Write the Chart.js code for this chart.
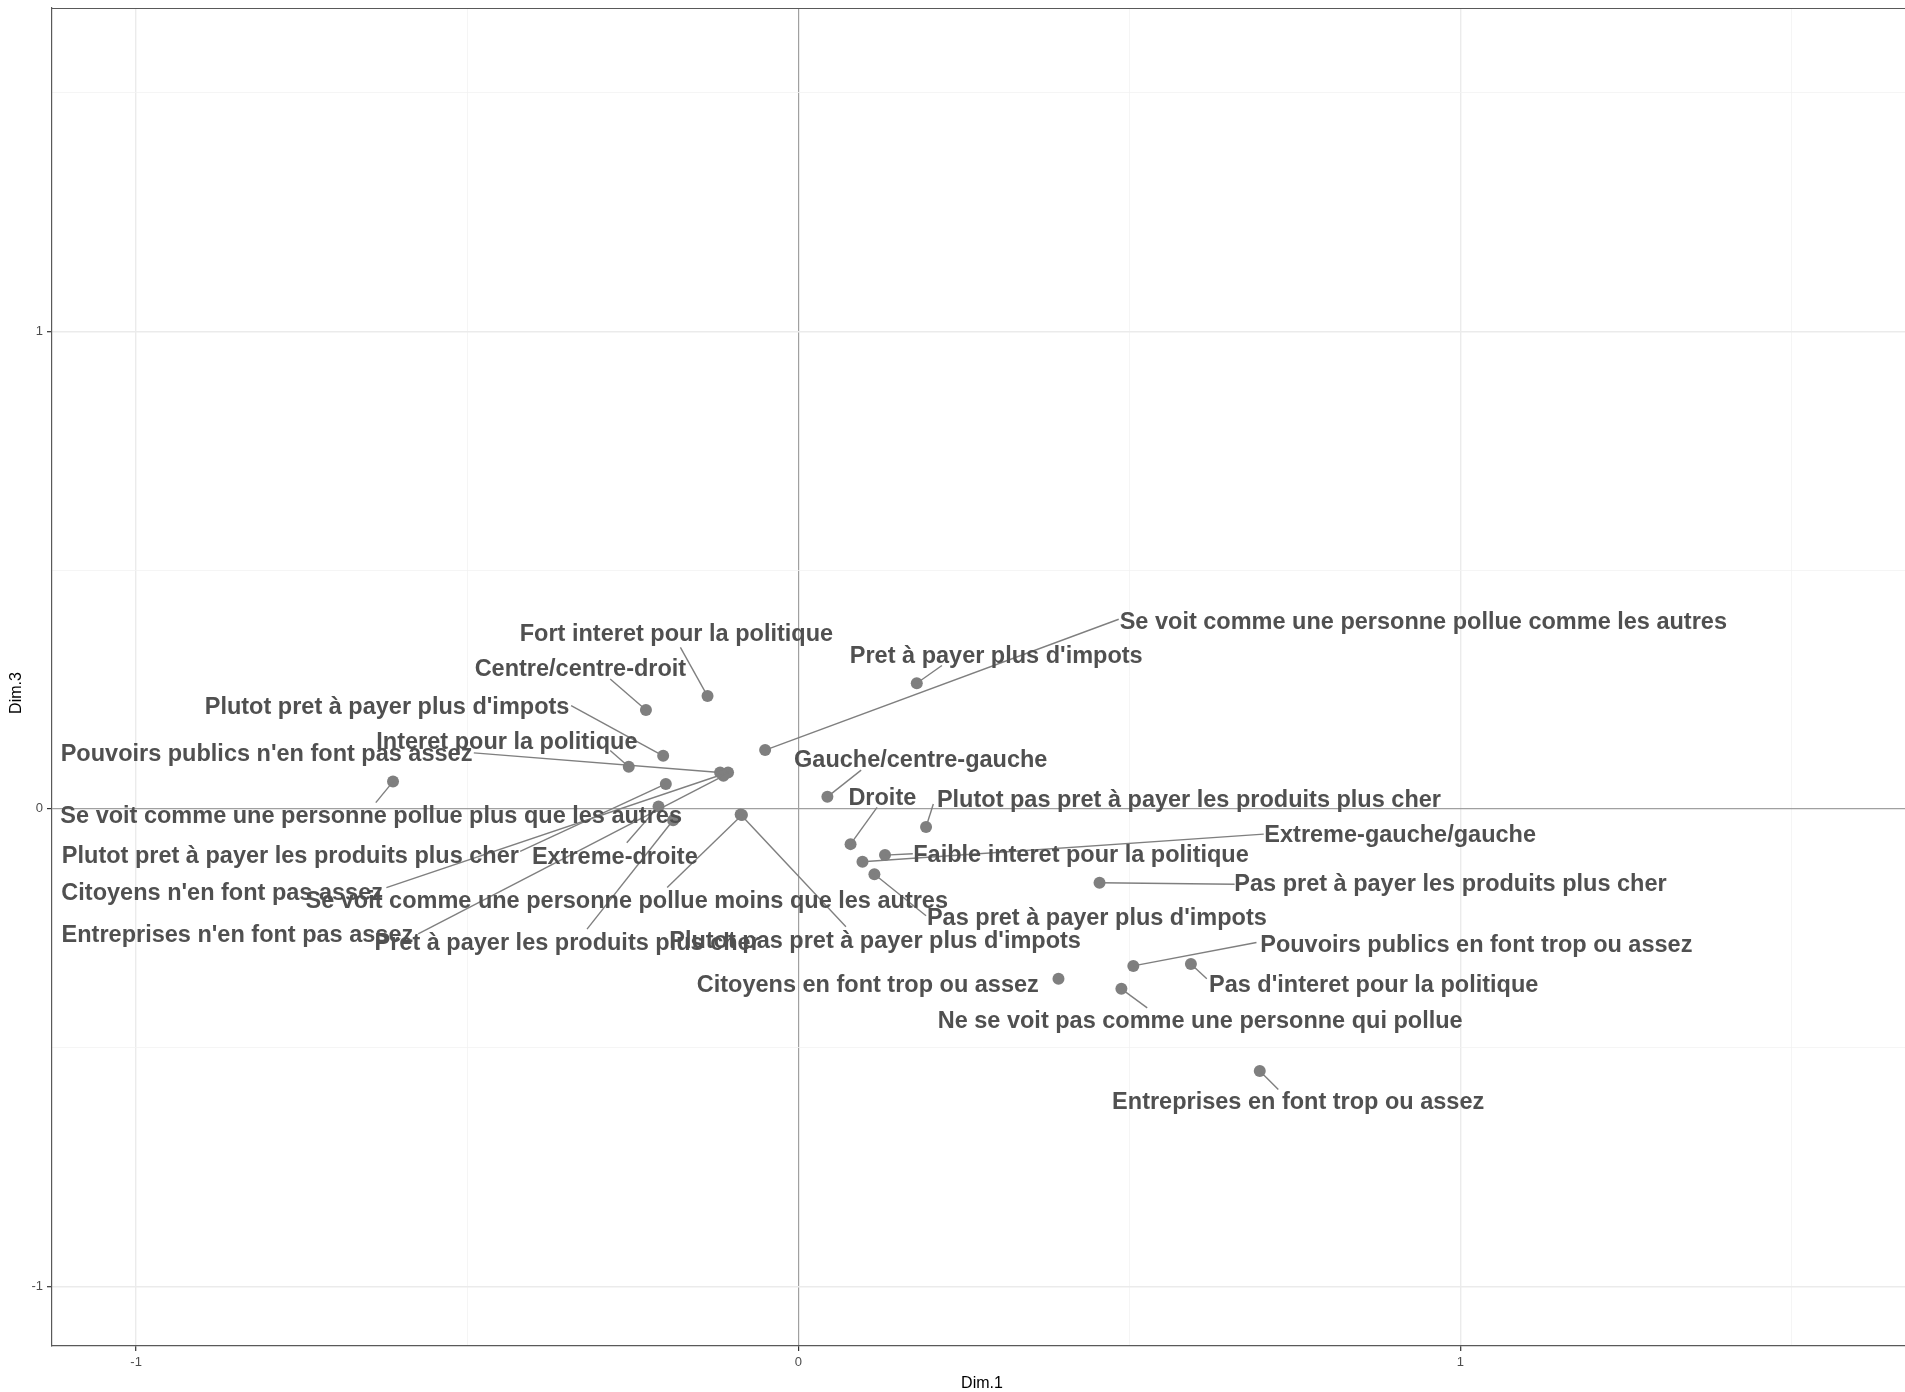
<!DOCTYPE html>
<html><head><meta charset="utf-8">
<script src="https://cdn.jsdelivr.net/npm/chart.js@4.4.1/dist/chart.umd.min.js"></script>
<style>
html,body{margin:0;padding:0;overflow:hidden;background:#fff;width:1905px;height:1392px}
#wrap{position:absolute;left:0;top:0;width:1925px;height:1392px}
</style>
</head><body><div id="wrap"><canvas id="c"></canvas></div>
<script>
// ---- data (MCA variable categories, Dim.1 vs Dim.3) ----
const categories = [
  "Fort interet pour la politique",
  "Centre/centre-droit",
  "Plutot pret à payer plus d'impots",
  "Interet pour la politique",
  "Pouvoirs publics n'en font pas assez",
  "Se voit comme une personne pollue plus que les autres",
  "Plutot pret à payer les produits plus cher",
  "Extreme-droite",
  "Citoyens n'en font pas assez",
  "Se voit comme une personne pollue moins que les autres",
  "Entreprises n'en font pas assez",
  "Pret à payer les produits plus cher",
  "Plutot pas pret à payer plus d'impots",
  "Citoyens en font trop ou assez",
  "Pret à payer plus d'impots",
  "Se voit comme une personne pollue comme les autres",
  "Gauche/centre-gauche",
  "Droite",
  "Plutot pas pret à payer les produits plus cher",
  "Extreme-gauche/gauche",
  "Faible interet pour la politique",
  "Pas pret à payer les produits plus cher",
  "Pas pret à payer plus d'impots",
  "Pouvoirs publics en font trop ou assez",
  "Pas d'interet pour la politique",
  "Ne se voit pas comme une personne qui pollue",
  "Entreprises en font trop ou assez"
];
const dim1 = [-0.137,-0.230,-0.204,-0.256,-0.118,-0.612,-0.200,-0.211,-0.106,-0.085,-0.113,-0.189,-0.087,
  0.393,0.179,-0.050,0.044,0.079,0.193,0.097,0.131,0.455,0.115,0.506,0.593,0.488,0.697];
const dim3 = [0.236,0.207,0.111,0.088,0.076,0.057,0.052,0.005,0.076,-0.013,0.069,-0.024,-0.012,
  -0.356,0.263,0.123,0.025,-0.074,-0.038,-0.111,-0.097,-0.155,-0.137,-0.329,-0.325,-0.377,-0.549];
const xTickLabels = [-1, 0, 1];
const yTickLabels = [-1, 0, 1];

// ---- layout: repelled label centres and segment ends (in data units) ----
const labelPosX = [-0.184,-0.329,-0.621,-0.440,-0.803,-0.645,-0.767,-0.277,-0.870,-0.259,-0.847,-0.349,0.116,
  0.105,0.299,0.944,0.185,0.127,0.590,0.909,0.427,0.985,0.451,1.024,0.869,0.607,0.755];
const labelPosY = [0.369,0.295,0.216,0.142,0.117,-0.013,-0.097,-0.099,-0.175,-0.191,-0.262,-0.280,-0.275,
  -0.366,0.323,0.394,0.104,0.025,0.020,-0.053,-0.094,-0.155,-0.226,-0.283,-0.366,-0.443,-0.613];
const linkEndX = [-0.178,-0.284,-0.343,-0.284,-0.490,-0.638,-0.420,-0.259,-0.622,-0.198,-0.574,-0.319,0.072,
  null,0.217,0.484,0.095,0.119,0.204,0.703,0.173,0.659,0.193,0.692,0.617,0.527,0.725];
const linkEndY = [0.338,0.272,0.216,0.122,0.117,0.013,-0.089,-0.071,-0.165,-0.165,-0.262,-0.252,-0.247,
  null,0.300,0.397,0.081,0.003,0.010,-0.053,-0.094,-0.158,-0.224,-0.280,-0.356,-0.417,-0.588];

const FONT = '"Liberation Sans", Arial, sans-serif';

const gridColor = c => {
  const v = c.tick ? c.tick.value : NaN;
  if (v === 0) return '#a0a0a0';
  return Number.isInteger(v) ? '#ebebeb' : '#f2f2f2';
};
const gridWidth = c => {
  const v = c.tick ? c.tick.value : NaN;
  if (v === 0) return 1.2;
  return Number.isInteger(v) ? 1.4 : 0.8;
};
const tickColor = c => {
  const v = c.tick ? c.tick.value : NaN;
  return Number.isInteger(v) ? '#333333' : 'rgba(0,0,0,0)';
};

const repelPlugin = {
  id: 'repel',
  afterDatasetsDraw(chart) {
    const {ctx, chartArea: a, scales: {x, y}} = chart;
    ctx.save();
    ctx.beginPath();
    ctx.rect(a.left, a.top, a.right - a.left, a.bottom - a.top);
    ctx.clip();
    ctx.strokeStyle = '#7f7f7f';
    ctx.lineWidth = 1.4;
    categories.forEach((c, i) => {
      if (linkEndX[i] === null) return;
      ctx.beginPath();
      ctx.moveTo(x.getPixelForValue(dim1[i]), y.getPixelForValue(dim3[i]));
      ctx.lineTo(x.getPixelForValue(linkEndX[i]), y.getPixelForValue(linkEndY[i]));
      ctx.stroke();
    });
    ctx.font = 'bold 23.5px ' + FONT;
    ctx.fillStyle = '#505050';
    ctx.textAlign = 'center';
    ctx.textBaseline = 'middle';
    categories.forEach((c, i) => {
      ctx.fillText(c, x.getPixelForValue(labelPosX[i]), y.getPixelForValue(labelPosY[i]) + 1.5);
    });
    ctx.restore();
  },
  afterDraw(chart) {
    const {ctx, chartArea: a} = chart;
    ctx.save();
    // top panel border
    ctx.strokeStyle = '#595959';
    ctx.lineWidth = 1.2;
    ctx.beginPath();
    ctx.moveTo(a.left, a.top + 0.5);
    ctx.lineTo(a.right, a.top + 0.5);
    ctx.stroke();
    // axis titles
    ctx.fillStyle = '#000';
    ctx.font = '16px ' + FONT;
    ctx.textAlign = 'center';
    ctx.textBaseline = 'middle';
    ctx.fillText('Dim.1', (a.left + a.right) / 2, 1384);
    ctx.translate(17, (a.top + a.bottom) / 2 + 16);
    ctx.rotate(-Math.PI / 2);
    ctx.fillText('Dim.3', 0, 0);
    ctx.restore();
  }
};

new Chart(document.getElementById('c'), {
  type: 'scatter',
  data: {
    datasets: [{
      data: categories.map((c, i) => ({x: dim1[i], y: dim3[i]})),
      pointRadius: 6,
      pointHoverRadius: 6,
      pointBackgroundColor: '#7f7f7f',
      pointBorderWidth: 0,
      pointBorderColor: '#7f7f7f'
    }]
  },
  options: {
    responsive: true,
    maintainAspectRatio: false,
    animation: false,
    events: [],
    layout: {padding: {top: 8, right: 13, left: 0, bottom: 0}},
    plugins: {legend: {display: false}, tooltip: {enabled: false}},
    scales: {
      x: {
        type: 'linear', position: 'bottom', min: -1.127, max: 1.682,
        afterFit: s => { s.height = 46; s.paddingLeft = 0; s.paddingRight = 0; },
        ticks: {
          stepSize: 0.5, includeBounds: false, autoSkip: false, maxRotation: 0,
          padding: 4, color: '#4d4d4d', font: {family: FONT, size: 13},
          callback: v => xTickLabels.includes(v) ? String(v) : ''
        },
        grid: {color: gridColor, lineWidth: gridWidth, tickColor: tickColor, tickLength: 5, tickWidth: 1.2},
        border: {display: true, color: '#595959', width: 1.2}
      },
      y: {
        type: 'linear', position: 'left', min: -1.125, max: 1.677,
        afterFit: s => { s.width = 52; s.paddingTop = 0; s.paddingBottom = 0; },
        ticks: {
          stepSize: 0.5, includeBounds: false, autoSkip: false,
          padding: 4, color: '#4d4d4d', font: {family: FONT, size: 13},
          callback: v => yTickLabels.includes(v) ? String(v) : ''
        },
        grid: {color: gridColor, lineWidth: gridWidth, tickColor: tickColor, tickLength: 5, tickWidth: 1.2},
        border: {display: true, color: '#595959', width: 1.2}
      }
    }
  },
  plugins: [repelPlugin]
});
</script>
</body></html>
